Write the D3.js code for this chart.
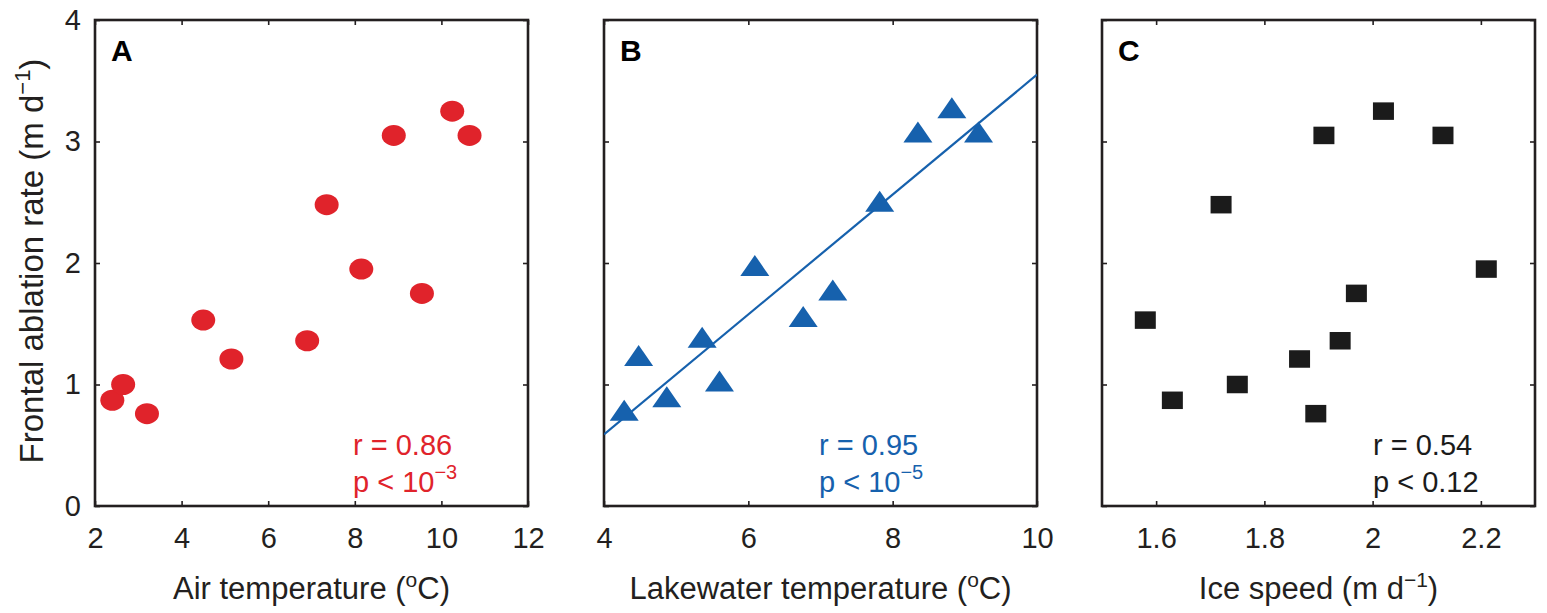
<!DOCTYPE html>
<html lang="en">
<head>
<meta charset="UTF-8">
<script src="https://d3js.org/d3.v7.min.js"></script>
<title>Frontal ablation rate vs drivers</title>
<style>
  body { margin: 0; background: #fff; }
  svg text { font-family: "Liberation Sans", Arial, sans-serif; fill: #231f20; }
  .tick text { font-size: 29px; }
  .tick line { stroke: #231f20; stroke-width: 1.6px; }
  .frame { fill: none; stroke: #231f20; stroke-width: 2.6px; }
  .axis-title { font-size: 31px; }
  .y-title { font-size: 33px; }
  .panel-label { font-size: 30px; font-weight: bold; fill: #000; }
  .stat { font-size: 29px; }
</style>
</head>
<body>
<script>
// frontal ablation rate (m/d), one value per observation
const ablationRate = [0.87, 1.00, 0.76, 1.53, 1.21, 1.36, 2.48, 1.95, 3.05, 1.75, 3.25, 3.05];
// drivers, same observation order
const airTemp   = [2.40, 2.65, 3.20, 4.50, 5.15, 6.90, 7.35, 8.15, 8.90, 9.55, 10.25, 10.65];
const lakeTemp  = [4.87, 5.60, 4.28, 6.76, 4.48, 5.36, 7.82, 6.09, 8.35, 7.17, 8.82, 9.19];
const iceSpeed  = [1.63, 1.75, 1.895, 1.58, 1.865, 1.94, 1.72, 2.21, 1.91, 1.97, 2.02, 2.13];
// regression line of panel B (end points)
const fitLake = [4, 10];
const fitRate = [0.59, 3.55];
// ticks
const yTicks = [0, 1, 2, 3, 4];
const airTicks = [2, 4, 6, 8, 10, 12];
const lakeTicks = [4, 6, 8, 10];
const iceTicks = [1.6, 1.8, 2, 2.2];
const stats = [["r = 0.86", "p < 10", "\u22123"], ["r = 0.95", "p < 10", "\u22125"], ["r = 0.54", "p < 0.12", ""]];

const W = 1547, H = 613;
const plotTop = 20, plotBottom = 506, pw = 433;
const svg = d3.select("body").append("svg").attr("width", W).attr("height", H);

const y = d3.scaleLinear().domain([0, 4]).range([plotBottom, plotTop]);

const panels = [
  {left: 95,   domain: [2, 12],    ticks: airTicks,  xs: airTemp,  label: "A", color: "#e0232b", marker: "circle",
   title: ["Air temperature (", "o", "C)"], statX: 353},
  {left: 604,  domain: [4, 10],    ticks: lakeTicks, xs: lakeTemp, label: "B", color: "#1661ad", marker: "triangle",
   title: ["Lakewater temperature (", "o", "C)"], statX: 819},
  {left: 1102, domain: [1.5, 2.3], ticks: iceTicks,  xs: iceSpeed, label: "C", color: "#1b1b1b", marker: "square",
   title: ["Ice speed (m d", "\u22121", ")"], statX: 1373}
];

panels.forEach(function (p, i) {
  const x = d3.scaleLinear().domain(p.domain).range([p.left, p.left + pw]);
  const g = svg.append("g");

  // axes, ticks pointing inwards
  g.append("g").attr("transform", "translate(0," + plotBottom + ")")
    .call(d3.axisBottom(x).tickValues(p.ticks).tickFormat(d3.format("~g")).tickSize(-5).tickPadding(21))
    .call(a => a.select(".domain").remove());
  g.append("g").attr("transform", "translate(0," + plotTop + ")")
    .call(d3.axisTop(x).tickValues(p.ticks).tickFormat("").tickSize(-5))
    .call(a => a.select(".domain").remove());
  g.append("g").attr("transform", "translate(" + p.left + ",0)")
    .call(d3.axisLeft(y).tickValues(yTicks).tickFormat(i === 0 ? d3.format("d") : "").tickSize(-5).tickPadding(14))
    .call(a => a.select(".domain").remove());
  g.append("g").attr("transform", "translate(" + (p.left + pw) + ",0)")
    .call(d3.axisRight(y).tickValues(yTicks).tickFormat("").tickSize(-5))
    .call(a => a.select(".domain").remove());
  g.selectAll(".tick text").attr("fill", "#231f20");

  g.append("rect").attr("class", "frame")
    .attr("x", p.left).attr("y", plotTop).attr("width", pw).attr("height", plotBottom - plotTop);

  // clip region for the fit line
  const clipId = "clip" + i;
  svg.append("clipPath").attr("id", clipId).append("rect")
    .attr("x", p.left).attr("y", plotTop).attr("width", pw).attr("height", plotBottom - plotTop);

  if (i === 1) {
    const line = d3.line().x(d => x(d[0])).y(d => y(d[1]));
    g.append("path")
      .attr("clip-path", "url(#" + clipId + ")")
      .attr("d", line(d3.zip(fitLake, fitRate)))
      .attr("fill", "none").attr("stroke", p.color).attr("stroke-width", 2.2);
  }

  const pts = d3.zip(p.xs, ablationRate);
  if (p.marker === "circle") {
    g.selectAll("ellipse").data(pts).enter().append("ellipse")
      .attr("cx", d => x(d[0])).attr("cy", d => y(d[1]))
      .attr("rx", 12).attr("ry", 10.5).attr("fill", p.color);
  } else if (p.marker === "triangle") {
    // centroid on the data point
    g.selectAll("path.tri").data(pts).enter().append("path").attr("class", "tri")
      .attr("transform", d => "translate(" + x(d[0]) + "," + y(d[1]) + ")")
      .attr("d", "M0,-14L14.5,7L-14.5,7Z").attr("fill", p.color);
  } else {
    g.selectAll("rect.sq").data(pts).enter().append("rect").attr("class", "sq")
      .attr("x", d => x(d[0]) - 10.5).attr("y", d => y(d[1]) - 8.75)
      .attr("width", 21).attr("height", 17.5).attr("fill", p.color);
  }

  // panel letter
  g.append("text").attr("class", "panel-label")
    .attr("x", p.left + 16).attr("y", 61).text(p.label);

  // statistics
  const s = stats[i];
  g.append("text").attr("class", "stat").attr("x", p.statX).attr("y", 455)
    .style("fill", p.color).text(s[0]);
  const t2 = g.append("text").attr("class", "stat").attr("x", p.statX).attr("y", 492)
    .style("fill", p.color).text(s[1]);
  if (s[2]) t2.append("tspan").attr("dy", -13).style("font-size", "20px").style("fill", p.color).text(s[2]);

  // x title
  const tt = g.append("text").attr("class", "axis-title")
    .attr("x", p.left + pw / 2).attr("y", 599).attr("text-anchor", "middle");
  tt.append("tspan").text(p.title[0]);
  tt.append("tspan").attr("dy", -12).style("font-size", "21px").text(p.title[1]);
  tt.append("tspan").attr("dy", 12).text(p.title[2]);
});

// y title
const yt = svg.append("text").attr("class", "y-title")
  .attr("transform", "translate(43,261) rotate(-90)").attr("text-anchor", "middle");
yt.append("tspan").text("Frontal ablation rate (m d");
yt.append("tspan").attr("dy", -13).style("font-size", "22px").text("\u22121");
yt.append("tspan").attr("dy", 13).text(")");
</script>
</body>
</html>
